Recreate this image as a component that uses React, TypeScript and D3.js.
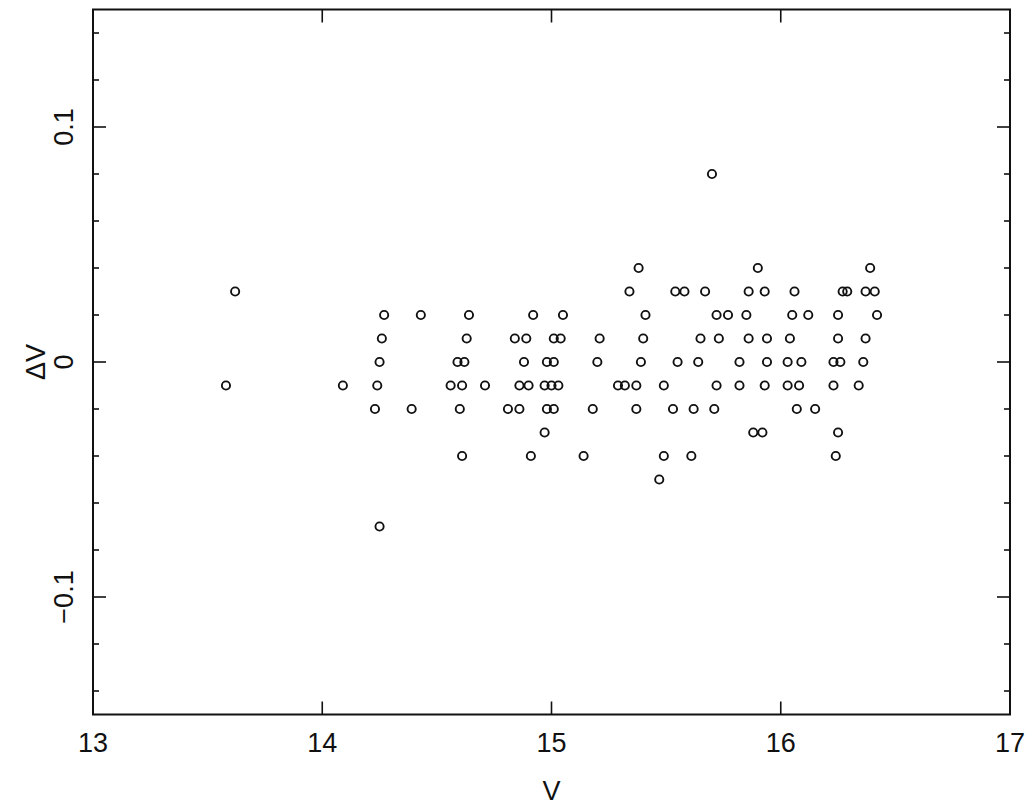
import React from 'react';
import * as d3 from 'd3';

// ΔV levels (rows) and V magnitudes of the stars found on each row
const deltaVLevels = [0.08, 0.04, 0.03, 0.02, 0.01, 0, -0.01, -0.02, -0.03, -0.04, -0.05, -0.07];
const vRowP008 = [15.70];
const vRowP004 = [15.38, 15.90, 16.39];
const vRowP003 = [13.62, 15.34, 15.54, 15.58, 15.67, 15.86, 15.93, 16.06, 16.27, 16.29, 16.37, 16.41];
const vRowP002 = [14.27, 14.43, 14.64, 14.92, 15.05, 15.41, 15.72, 15.77, 15.85, 16.05, 16.12, 16.25, 16.42];
const vRowP001 = [14.26, 14.63, 14.84, 14.89, 15.01, 15.04, 15.21, 15.40, 15.65, 15.73, 15.86, 15.94, 16.04, 16.25, 16.37];
const vRowZero = [14.25, 14.59, 14.62, 14.88, 14.98, 15.01, 15.20, 15.39, 15.55, 15.64, 15.82, 15.94, 16.03, 16.09, 16.23, 16.26, 16.36];
const vRowM001 = [13.58, 14.09, 14.24, 14.56, 14.61, 14.71, 14.86, 14.90, 14.97, 15.00, 15.03, 15.29, 15.32, 15.37, 15.49, 15.72, 15.82, 15.93, 16.03, 16.08, 16.23, 16.34];
const vRowM002 = [14.23, 14.39, 14.60, 14.81, 14.86, 14.98, 15.01, 15.18, 15.37, 15.53, 15.62, 15.71, 16.07, 16.15];
const vRowM003 = [14.97, 15.88, 15.92, 16.25];
const vRowM004 = [14.61, 14.91, 15.14, 15.49, 15.61, 16.24];
const vRowM005 = [15.47];
const vRowM007 = [14.25];
const vRows = [vRowP008, vRowP004, vRowP003, vRowP002, vRowP001, vRowZero, vRowM001, vRowM002, vRowM003, vRowM004, vRowM005, vRowM007];

const xMajorTicks = [13, 14, 15, 16, 17];
const xTickLabels = ['13', '14', '15', '16', '17'];
const yMajorTicks = [-0.1, 0, 0.1];
const yTickLabels = ['\u22120.1', '0', '0.1'];

const W = 1036;
const H = 812;
const L = 93, R = 1010, T = 9.5, B = 714.5;

export default function App() {
  const x = d3.scaleLinear().domain([13, 17]).range([L, R]);
  const y = d3.scaleLinear().domain([-0.15, 0.15]).range([B, T]);

  const points: { v: number; dv: number }[] = [];
  deltaVLevels.forEach((dv, i) => vRows[i].forEach((v) => points.push({ v, dv })));

  const yMinor = d3.range(-0.14, 0.14001, 0.02).filter((t) => Math.abs(t * 10 - Math.round(t * 10)) > 1e-6);
  const majorLen = 13;
  const minorLen = 6;
  const font = '"Liberation Sans", "DejaVu Sans", sans-serif';
  const ink = '#111';

  return (
    <div style={{ position: 'fixed', left: 0, top: 0, width: W, height: H, background: '#fff' }}>
      <svg width={W} height={H} style={{ display: 'block' }}>
        <rect x={0} y={0} width={W} height={H} fill="#fff" />
        {/* ticks */}
        <g stroke={ink} strokeWidth={1.6}>
          {xMajorTicks.slice(1, -1).map((t) => (
            <g key={'xM' + t}>
              <line x1={x(t)} x2={x(t)} y1={B} y2={B - majorLen} />
              <line x1={x(t)} x2={x(t)} y1={T} y2={T + majorLen} />
            </g>
          ))}
          {yMajorTicks.map((t) => (
            <g key={'yM' + t}>
              <line x1={L} x2={L + majorLen} y1={y(t)} y2={y(t)} />
              <line x1={R} x2={R - majorLen} y1={y(t)} y2={y(t)} />
            </g>
          ))}
          {yMinor.map((t) => (
            <g key={'ym' + t}>
              <line x1={L} x2={L + minorLen} y1={y(t)} y2={y(t)} />
              <line x1={R} x2={R - minorLen} y1={y(t)} y2={y(t)} />
            </g>
          ))}
        </g>
        {/* frame */}
        <rect x={L} y={T} width={R - L} height={B - T} fill="none" stroke={ink} strokeWidth={2} />
        {/* points */}
        <g fill="none" stroke={ink} strokeWidth={1.9}>
          {points.map((p, i) => (
            <circle key={i} cx={x(p.v)} cy={y(p.dv)} r={4.1} />
          ))}
        </g>
        {/* tick labels */}
        <g fontFamily={font} fontSize={27} fill={ink}>
          {xMajorTicks.map((t, i) => (
            <text key={'xl' + t} x={x(t)} y={752} textAnchor="middle">
              {xTickLabels[i]}
            </text>
          ))}
          {yMajorTicks.map((t, i) => (
            <text key={'yl' + t} transform={`translate(73, ${y(t)}) rotate(-90)`} textAnchor="middle">
              {yTickLabels[i]}
            </text>
          ))}
          <text x={(L + R) / 2} y={800} textAnchor="middle">V</text>
          <text transform={`translate(45, ${y(0)}) rotate(-90)`} textAnchor="middle">ΔV</text>
        </g>
      </svg>
    </div>
  );
}
